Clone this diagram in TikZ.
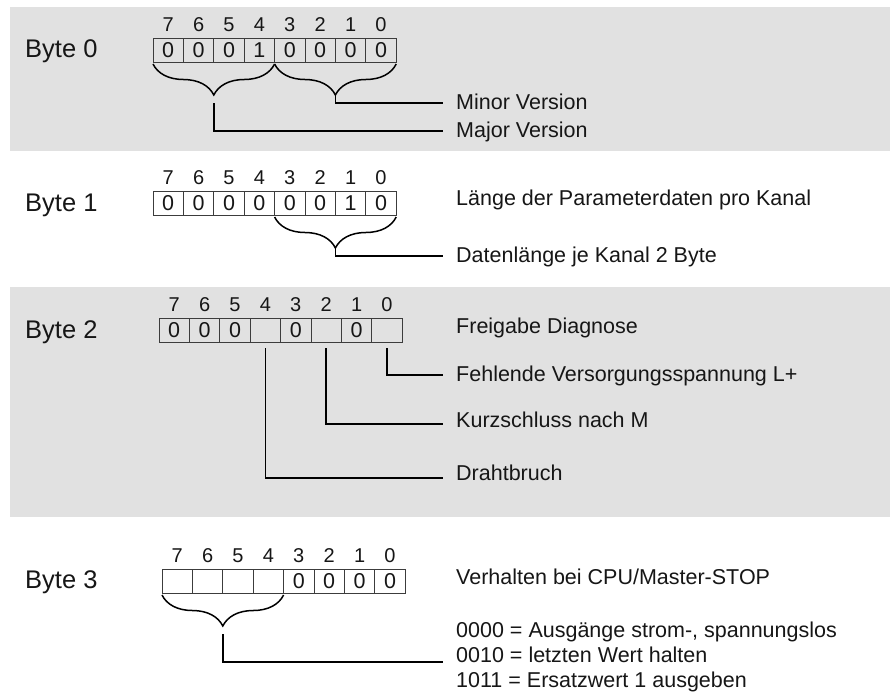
\documentclass[tikz,border=0pt]{standalone}
\usepackage{fontspec}
\setmainfont{Liberation Sans}
\usetikzlibrary{positioning,calc,decorations.pathreplacing}
\definecolor{panelgray}{RGB}{225,225,225}
\definecolor{inkgray}{RGB}{22,22,22}
\definecolor{cellline}{RGB}{60,60,60}

\begin{document}
\begin{tikzpicture}[
    x=1pt, y=-1pt,
    bitcell/.style={rectangle, draw=cellline, line width=0.9pt, minimum width=30.4pt, minimum height=24pt, inner sep=0pt, text=inkgray, font=\fontsize{21.5}{21.5}\selectfont},
    bitnum/.style={inner sep=0pt, text=inkgray, font=\fontsize{20}{20}\selectfont},
    bytelabel/.style={anchor=base west, inner sep=0pt, text=inkgray, font=\fontsize{25.5}{25.5}\selectfont},
    info/.style={anchor=base west, inner xsep=13pt, inner ysep=0pt, text=inkgray, font=\fontsize{21.5}{21.5}\selectfont},
    bytebrace/.style={line width=1.5pt, decorate, decoration={brace, mirror, amplitude=31pt}},
    callout/.style={line width=1.6pt}
]
\useasboundingbox (0,0) rectangle (890,694);

% Panels
\fill[panelgray] (10,7) rectangle (890,151);
\fill[panelgray] (10,287) rectangle (890,517);

% Byte 0
\node (byte0) [bytelabel] at (25,57.5) {Byte 0};
\foreach \b/\v in {7/0,6/0,5/0,4/1,3/0,2/0,1/0,0/0}
  \node (a\b) [bitcell] at ({168.2+30.4*(7-\b)},50) {\v};
\foreach \b in {7,...,0}
  \node (na\b) [bitnum, above=6pt of a\b] {\b};
\draw[bytebrace] (153,64) -- (274.6,64);
\draw[bytebrace] (274.6,64) -- (396.2,64);
\coordinate (tipA) at (213.8,95);
\coordinate (tipB) at (335.4,95);
\node (minor) [info] at (443,109.6) {Minor Version};
\node (major) [info] at (443,137.6) {Major Version};
\draw[callout] (tipB) |- ([yshift=6.6pt]minor.base west);
\draw[callout] ([yshift=-8pt]tipA) |- ([yshift=6.6pt]major.base west);

% Byte 1
\node (byte1) [bytelabel] at (25,211.5) {Byte 1};
\foreach \b/\v in {7/0,6/0,5/0,4/0,3/0,2/0,1/1,0/0}
  \node (b\b) [bitcell] at ({168.2+30.4*(7-\b)},203) {\v};
\foreach \b in {7,...,0}
  \node (nb\b) [bitnum, above=6pt of b\b] {\b};
\draw[bytebrace] (274.6,217) -- (396.2,217);
\coordinate (tipC) at (335.4,248);
\node (laenge) [info] at (443,205.6) {Länge der Parameterdaten pro Kanal};
\node (datlen) [info] at (443,262.6) {Datenlänge je Kanal 2 Byte};
\draw[callout] (tipC) |- ([yshift=6.6pt]datlen.base west);

% Byte 2
\node (byte2) [bytelabel] at (25,338.5) {Byte 2};
\foreach \b/\v in {7/0,6/0,5/0,4/{},3/0,2/{},1/0,0/{}}
  \node (c\b) [bitcell] at ({174.2+30.4*(7-\b)},330) {\v};
\foreach \b in {7,...,0}
  \node (nc\b) [bitnum, above=6pt of c\b] {\b};
\node (freigabe) [info] at (443,333.6) {Freigabe Diagnose};
\node (fehlend) [info] at (443,381.6) {Fehlende Versorgungsspannung L+};
\node (kurz) [info] at (443,427.6) {Kurzschluss nach M};
\node (draht) [info] at (443,480.6) {Drahtbruch};
\draw[callout] ([yshift=-6pt]c0.south) |- ([yshift=6.6pt]fehlend.base west);
\draw[callout] ([yshift=-6pt]c2.south) |- ([yshift=3.6pt]kurz.base west);
\draw[callout] ([yshift=-6pt]c4.south) |- ([yshift=2.6pt]draht.base west);

% Byte 3
\node (byte3) [bytelabel] at (25,588.5) {Byte 3};
\foreach \b/\v in {7/{},6/{},5/{},4/{},3/0,2/0,1/0,0/0}
  \node (d\b) [bitcell] at ({177.2+30.4*(7-\b)},581) {\v};
\foreach \b in {7,...,0}
  \node (nd\b) [bitnum, above=6pt of d\b] {\b};
\draw[bytebrace] (162,595) -- (283.6,595);
\coordinate (tipD) at (222.8,626);
\node (verhalten) [info] at (443,584.6) {Verhalten bei CPU/Master-STOP};
\node (stromlos) [info] at (443,637.6) {0000 = Ausgänge strom-, spannungslos};
\node (halten) [info] at (443,662.6) {0010 = letzten Wert halten};
\node (ersatz) [info] at (443,687.6) {1011 = Ersatzwert 1 ausgeben};
\draw[callout] ([yshift=-8pt]tipD) |- ([yshift=0.6pt]halten.base west);

\end{tikzpicture}
\end{document}
